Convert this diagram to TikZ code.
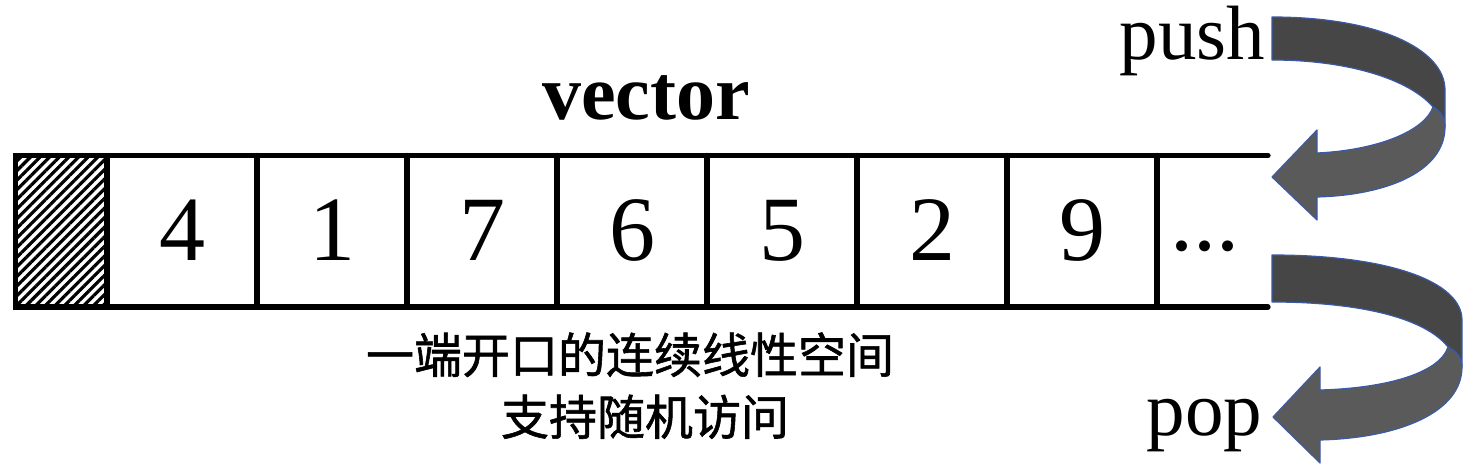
\documentclass[tikz,border=0pt]{standalone}
\usepackage{fontspec}
\setmainfont{Liberation Serif}
\newfontfamily\cjk[FakeBold=1.2]{Noto Sans CJK SC}
\usepackage{tikz}
\usetikzlibrary{patterns.meta}
\definecolor{bandDark}{HTML}{464646}
\definecolor{bandLight}{HTML}{5A5A5A}
\definecolor{bandEdge}{HTML}{3A5AA8}

\begin{document}
\begin{tikzpicture}[x=0.5pt,y=-0.5pt,line width=2.6pt,line cap=round,
                    every node/.style={inner sep=0pt,outer sep=0pt}]
  \tikzstyle{num}=[anchor=base,font=\fontsize{46}{46}\selectfont]
  \tikzstyle{op}=[anchor=base east,font=\fontsize{38.5}{38.5}\selectfont]
  \tikzstyle{note}=[anchor=base,font=\cjk\fontsize{24}{24}\selectfont]
  \tikzstyle{dark band}=[fill=bandDark,draw=bandEdge,line width=0.6pt,line join=round]
  \tikzstyle{light band}=[fill=bandLight,draw=bandEdge,line width=0.6pt,line join=round]

  \useasboundingbox (0,0) rectangle (1484,476);

  % closed end
  \draw[pattern={Lines[angle=45,distance=3.4pt,line width=1.6pt]}]
    (15.5,155.5) rectangle (107,307);
  \draw (107,155.5) -- (1268,155.5) (107,307) -- (1268,307);
  \foreach \x in {257,407,...,1157}
    \draw (\x,155.5) -- (\x,307);

  \foreach \v [count=\i] in {4,1,7,6,5,2,9}
    \node[num] (n\i) at (32+150*\i,260) {\v};
  \node[num] (more) at (1205,250) {...};

  \node[anchor=base,font=\fontsize{39}{39}\selectfont\bfseries] (title) at (646,120) {vector};
  \node[note] (note1) at (630,373) {一端开口的连续线性空间};
  \node[note] (note2) at (645,435) {支持随机访问};

  \node[op] (push) at (1265,60) {push};
  \node[op] (pop) at (1262,435) {pop};

  % push
  \path[dark band] (1272,17) .. controls (1380,17) and (1445,50) .. (1445,90) -- (1445,127)
    .. controls (1445,118) and (1440,111) .. (1433,107)
    .. controls (1410,80) and (1350,60) .. (1272,60) -- cycle;
  \path[light band] (1445,127) .. controls (1445,170) and (1390,195) .. (1317,197)
    -- (1317,220) -- (1272,177) -- (1317,130) -- (1317,153)
    .. controls (1380,150) and (1425,130) .. (1433,107)
    .. controls (1440,111) and (1445,118) .. (1445,127) -- cycle;

  % pop
  \path[dark band] (1272,255) .. controls (1390,255) and (1462,282) .. (1462,320) -- (1462,367)
    .. controls (1462,358) and (1456,351) .. (1448,347)
    .. controls (1425,318) and (1360,302) .. (1272,302) -- cycle;
  \path[light band] (1462,367) .. controls (1462,412) and (1400,438) .. (1320,440)
    -- (1320,463) -- (1273,417) -- (1320,367) -- (1320,390)
    .. controls (1390,388) and (1440,372) .. (1448,347)
    .. controls (1456,351) and (1462,358) .. (1462,367) -- cycle;
\end{tikzpicture}
\end{document}
